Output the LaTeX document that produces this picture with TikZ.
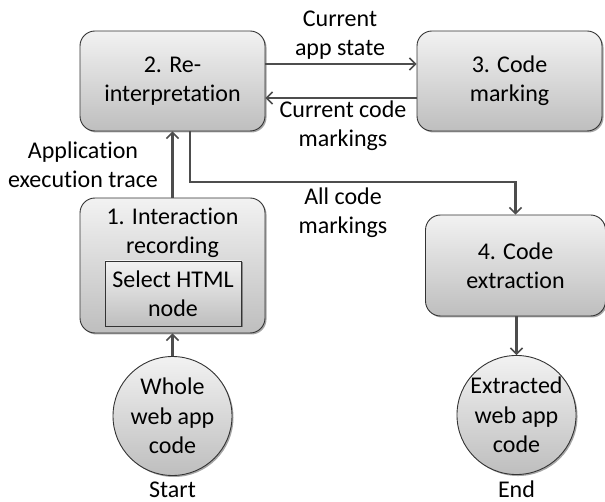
\documentclass[tikz,border=0pt]{standalone}
\usepackage{fontspec}
\setmainfont{Carlito}[Ligatures={NoCommon}]
\usetikzlibrary{arrows.meta,shadows,positioning}
\definecolor{linec}{HTML}{4D4D4D}
\definecolor{edgec}{HTML}{333333}
\definecolor{topc}{HTML}{F2F2F2}
\definecolor{botc}{HTML}{BEBEBE}
\tikzset{
  shade box/.style={draw=edgec, line width=0.9pt, top color=topc, bottom color=botc,
    drop shadow={shadow xshift=1.5pt, shadow yshift=-1.5pt, opacity=0.35, fill=black},
    align=center, inner sep=0pt, font=\fontsize{24}{29.3}\selectfont},
  procbox/.style={shade box, rounded corners=15pt, minimum width=185pt, minimum height=100pt},
  subbox/.style={shade box, minimum width=136pt, minimum height=65pt},
  endcircle/.style={shade box, circle, minimum size=119pt},
  lbl/.style={align=center, inner sep=0pt, font=\fontsize{24}{29.3}\selectfont},
  arr/.style={draw=linec, line width=2.2pt, -{Straight Barb[length=6pt,width=12pt,line width=1.6pt]}},
}
\begin{document}
\begin{tikzpicture}[x=1pt,y=-1pt]
\useasboundingbox (0,0) rectangle (605,502);
\node[procbox] (b2) at (172.5,81) {2. Re-\\interpretation};
\node[procbox] (b3) at (509.5,81) {3. Code\\marking};
\node[procbox, minimum height=135pt] (b1) at (172.5,265.5) {};
\node[lbl, anchor=center] (b1t) at (172.5,233) {1. Interaction\\recording};
\node[subbox] (sel) at (173,293.5) {Select HTML\\node};
\node[procbox, minimum width=180pt, minimum height=101pt] (b4) at (515.5,265.5) {4. Code\\extraction};
\node[endcircle] (start) at (172.5,416) {Whole\\web app\\code};
\node[endcircle] (end) at (516.5,415) {Extracted\\web app\\code};
\node[lbl, font=\fontsize{24}{24}\selectfont, anchor=base] (startl) at (172.5,497.5) {Start};
\node[lbl, font=\fontsize{24}{24}\selectfont, anchor=base] (endl) at (516.5,497.5) {End};
\node[lbl] (l1) at (340,35) {Current\\app state};
\node[lbl] (l2) at (343,126) {Current code\\markings};
\node[lbl] (l3) at (83,165) {Application\\execution trace};
\node[lbl] (l4) at (343,213) {All code\\markings};
\coordinate (bend) at (190,182);
\draw[arr] ([yshift=17pt]b2.east) -- ([yshift=17pt]b3.west);
\draw[arr] ([yshift=-17pt]b3.west) -- ([yshift=-17pt]b2.east);
\draw[arr] (b1.north) -- (b2.south);
\draw[arr] (bend |- b2.south) -- (bend) -| (b4.north);
\draw[arr] (b4.south -| end.north) -- (end.north);
\draw[arr] (start.north) -- (b1.south);
\end{tikzpicture}
\end{document}
